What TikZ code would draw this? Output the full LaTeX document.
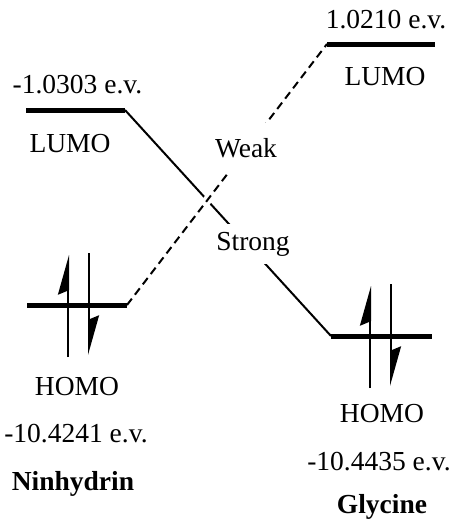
\documentclass[tikz,border=0pt]{standalone}
\usepackage{fontspec}
\setmainfont{Liberation Serif}
\pgfdeclarelayer{background}
\pgfsetlayers{background,main}
\usetikzlibrary{arrows.meta}
\newcommand{\Level}[3]% left end, right end, name
{\coordinate (#3l) at (#1);
  \coordinate (#3r) at (#2);
  \draw[line width=5pt] (#3l) -- (#3r);
}
\newcommand{\Label}[3]% pos, name, text
{\node[anchor=base,inner sep=0pt] (#2) at (#1) {#3};}
\newcommand{\Spin}[3]% start, end, name
{\coordinate (#3a) at (#1);
  \coordinate (#3b) at (#2);
  \draw[line width=2pt,-{Stealth[harpoon,length=36pt,width=20pt,inset=4pt]}] (#3a) -- (#3b);
}
\newcommand{\Strong}[2]%
{ \begin{pgfonlayer}{background}
    \draw[line width=2pt] (#1) -- (#2);
  \end{pgfonlayer}
}
\newcommand{\Weak}[2]%
{ \begin{pgfonlayer}{background}
    \draw[line width=2pt,dash pattern=on 8pt off 5pt,
      preaction={draw=white,solid,line width=9pt}] (#1) -- (#2);
  \end{pgfonlayer}
}

\begin{document}
\begin{tikzpicture}[x=1pt,y=-1pt,font=\fontsize{27.5}{32}\selectfont]
  \useasboundingbox (0,0) rectangle (455,520);
  % levels
  \Level{26,110}{125,110}{NL}
  \Level{27,305}{127,305}{NH}
  \Level{327,44}{435,44}{GL}
  \Level{331,336}{432,336}{GH}
  % electrons
  \Spin{68,357}{68,255}{NHup}
  \Spin{89,253}{89,355}{NHdn}
  \Spin{370,388}{370,286}{GHup}
  \Spin{391,284}{391,386}{GHdn}
  % interactions
  \Strong{NLr}{GHl}
  \Weak{NHr}{GLl}
  % texts
  \Label{77.5,93}{NLe}{-1.0303 e.v.}
  \Label{70,152}{NLt}{LUMO}
  \Label{386,28}{GLe}{1.0210 e.v.}
  \Label{385,85}{GLt}{LUMO}
  \Label{77,395}{NHt}{HOMO}
  \Label{76,442}{NHe}{-10.4241 e.v.}
  \Label{73,490}{N}{\textbf{Ninhydrin}}
  \Label{382,422}{GHt}{HOMO}
  \Label{379,470}{GHe}{-10.4435 e.v.}
  \Label{382,513}{G}{\textbf{Glycine}}
  \node[anchor=base,fill=white,inner xsep=4pt,inner ysep=15pt] (weak) at (246,157) {Weak};
  \node[anchor=base,fill=white,inner xsep=4pt,inner ysep=8pt] (strong) at (253,250) {Strong};
\end{tikzpicture}
\end{document}
